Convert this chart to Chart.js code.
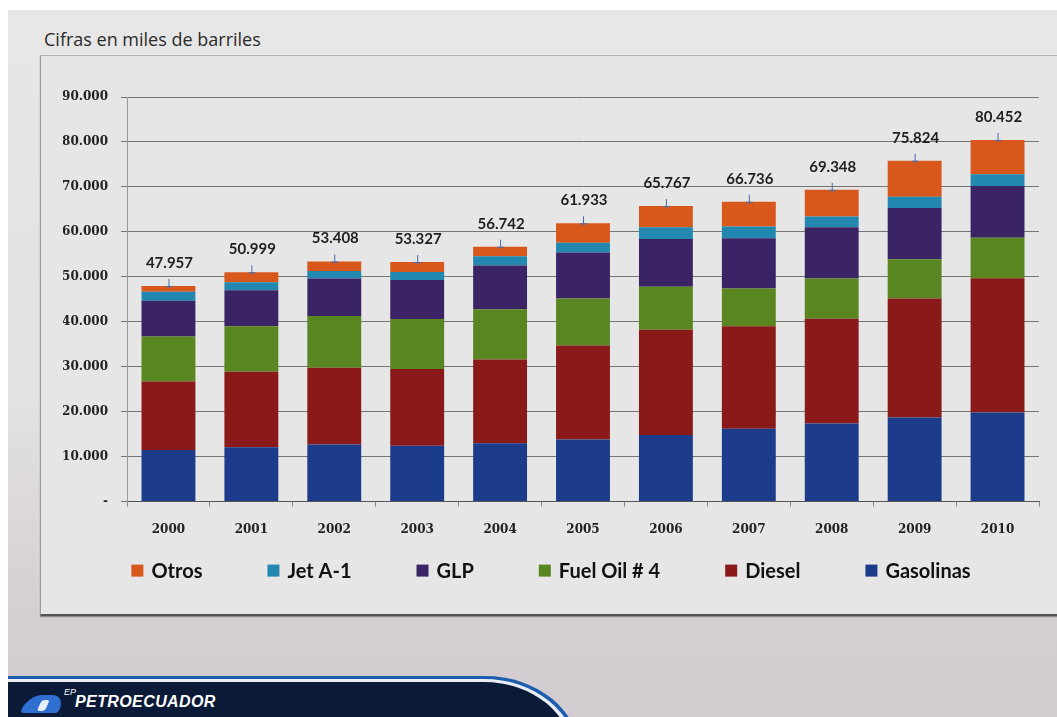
<!DOCTYPE html>
<html lang="es">
  <head>
    <meta charset="UTF-8" />
    <script src="https://cdn.jsdelivr.net/npm/chart.js@4.4.1/dist/chart.umd.min.js"></script>
    <title>Cifras en miles de barriles</title>
    <style>
      html,
      body {
        margin: 0;
        padding: 0;
        width: 1057px;
        height: 717px;
        overflow: hidden;
        background: #ffffff;
      }

      .slide {
        position: absolute;
        left: 8px;
        top: 10px;
        width: 1049px;
        height: 707px;
        background: linear-gradient(to bottom, #e7e7e7 0%, #e3e1e2 55%, #d4cdd2 88%, #d3ccd1 100%);
        overflow: hidden;
      }

      .titulo {
        position: absolute;
        left: 36px;
        top: 17px;
        font-family: "Open Sans", sans-serif;
        font-size: 18px;
        color: #2a2a2a;
        margin: 0;
      }

      .marco {
        position: absolute;
        left: 32px;
        top: 45px;
        width: 1040px;
        height: 558px;
        background: #e6e6e6;
        border-left: 1px solid #9c9c9c;
        border-top: 1px solid #b4b4b4;
        border-bottom: 2px solid #555555;
        box-shadow: 0 1px 1px #8a8a8a;
      }

      .grafico {
        position: absolute;
        left: 1px;
        top: 1px;
        width: 1016px;
        height: 556px;
      }

      .banda {
        position: absolute;
        left: 0;
        top: 666px;
        width: 572px;
        height: 90px;
        background: #1d5eae;
        border-top-right-radius: 95px 78px;
      }

      .banda-blanca {
        position: absolute;
        left: 0;
        top: 3px;
        right: 4px;
        bottom: 0;
        background: #e9eef5;
        border-top-right-radius: 92px 75px;
      }

      .banda-azul {
        position: absolute;
        left: 0;
        top: 3px;
        right: 4px;
        bottom: 0;
        background: #0b1a36;
        border-top-right-radius: 88px 72px;
      }

      .logo-icono {
        position: absolute;
        left: 16px;
        top: 13px;
        width: 38px;
        height: 18px;
        background: #2f6fd0;
        border-radius: 16px 16px 4px 4px;
        transform: skewX(-25deg);
      }

      .logo-icono::after {
        content: "";
        position: absolute;
        left: 16px;
        top: 5px;
        width: 8px;
        height: 11px;
        background: #e8eef8;
        border-radius: 3px;
      }

      .logo-ep {
        position: absolute;
        left: 56px;
        top: 5px;
        font-family: "Liberation Sans", sans-serif;
        font-style: italic;
        font-size: 9px;
        color: #ffffff;
      }

      .logo-texto {
        position: absolute;
        left: 67px;
        top: 11px;
        font-family: "Liberation Sans", sans-serif;
        font-weight: bold;
        font-style: italic;
        font-size: 16px;
        letter-spacing: 0.4px;
        color: #ffffff;
      }
    </style>
  </head>

  <body>
    <div class="slide">
      <p class="titulo">Cifras en miles de barriles</p>
      <div class="marco">
        <div class="grafico">
          <canvas id="myChart"></canvas>
        </div>
      </div>
      <div class="banda">
        <div class="banda-blanca">
          <div class="banda-azul">
            <div class="logo-icono"></div>
            <span class="logo-ep">EP</span>
            <span class="logo-texto">PETROECUADOR</span>
          </div>
        </div>
      </div>
    </div>

    <script>
      // miles de barriles
      const anios = ["2000", "2001", "2002", "2003", "2004", "2005", "2006", "2007", "2008", "2009", "2010"];
      const gasolinas = [11.5, 12.1, 12.7, 12.4, 13.0, 13.8, 14.8, 16.2, 17.4, 18.7, 19.8];
      const diesel = [15.2, 16.8, 17.1, 17.1, 18.6, 20.9, 23.4, 22.8, 23.3, 26.5, 29.9];
      const fuelOil = [10.0, 10.1, 11.5, 11.1, 11.2, 10.5, 9.6, 8.4, 8.9, 8.7, 9.0];
      const glp = [8.0, 8.0, 8.3, 8.7, 9.7, 10.2, 10.6, 11.2, 11.4, 11.4, 11.5];
      const jetA1 = [2.0, 1.8, 1.7, 1.8, 2.1, 2.2, 2.6, 2.6, 2.4, 2.5, 2.6];
      const otros = [1.26, 2.2, 2.1, 2.2, 2.1, 4.3, 4.77, 5.5, 5.95, 8.02, 7.65];
      const totales = [47957, 50999, 53408, 53327, 56742, 61933, 65767, 66736, 69348, 75824, 80452];

      const miles = (v) => v.map((x) => x * 1000);
      const puntos = (n) => (n === 0 ? "-" : n.toString().replace(/\B(?=(\d{3})+(?!\d))/g, "."));

      const serif = { family: "'DejaVu Serif', serif", size: 12, weight: "bold" };

      // totales encima de cada barra
      const totalesPlugin = {
        id: "totales",
        afterDatasetsDraw(chart) {
          const { ctx } = chart;
          const meta = chart.getDatasetMeta(chart.data.datasets.length - 1);
          ctx.save();
          ctx.font = "bold 15px Lato, sans-serif";
          ctx.fillStyle = "#1e1e1e";
          ctx.textAlign = "center";
          ctx.textBaseline = "middle";
          meta.data.forEach((bar, i) => {
            ctx.strokeStyle = "#4b6aa8";
            ctx.lineWidth = 1;
            ctx.beginPath();
            ctx.moveTo(bar.x + 0.5, bar.y - 7);
            ctx.lineTo(bar.x + 0.5, bar.y + 2);
            ctx.moveTo(bar.x - 3, bar.y + 0.5);
            ctx.lineTo(bar.x + 4, bar.y + 0.5);
            ctx.stroke();
            ctx.fillText(puntos(totales[i]), bar.x + 1, bar.y - 23);
          });
          ctx.restore();
        },
      };

      // leyenda en una sola fila, Otros primero
      const leyendaPlugin = {
        id: "leyenda",
        afterDraw(chart) {
          const { ctx } = chart;
          const sets = chart.data.datasets.slice().reverse();
          const gap = 65;
          const box = 12;
          ctx.save();
          ctx.font = "bold 20px Lato, sans-serif";
          const anchos = sets.map((d) => box + 8 + ctx.measureText(d.label).width);
          const total = anchos.reduce((a, b) => a + b, 0) + gap * (sets.length - 1);
          let x = chart.width / 2 + 1 - total / 2;
          const y = chart.chartArea.bottom + 69;
          ctx.textBaseline = "middle";
          sets.forEach((d, i) => {
            ctx.fillStyle = d.backgroundColor;
            ctx.fillRect(x, y - box / 2, box, box);
            ctx.fillStyle = "#111111";
            ctx.fillText(d.label, x + box + 8, y + 1);
            x += anchos[i] + gap;
          });
          ctx.restore();
        },
      };

      const ctx = document.getElementById("myChart");
      new Chart(ctx, {
        type: "bar",
        data: {
          labels: anios,
          datasets: [
            { label: "Gasolinas", data: miles(gasolinas), backgroundColor: "#1d3b8b" },
            { label: "Diesel", data: miles(diesel), backgroundColor: "#8a1a1a" },
            { label: "Fuel Oil # 4", data: miles(fuelOil), backgroundColor: "#5a8622" },
            { label: "GLP", data: miles(glp), backgroundColor: "#3b2466" },
            { label: "Jet A-1", data: miles(jetA1), backgroundColor: "#2388b0" },
            { label: "Otros", data: miles(otros), backgroundColor: "#d8571b" },
          ],
        },
        plugins: [totalesPlugin, leyendaPlugin],
        options: {
          responsive: true,
          maintainAspectRatio: false,
          animation: false,
          layout: {
            padding: { top: 40, left: 21, right: 19, bottom: 60 },
          },
          datasets: {
            bar: { categoryPercentage: 1, barPercentage: 0.65 },
          },
          scales: {
            x: {
              stacked: true,
              grid: {
                drawOnChartArea: false,
                tickLength: 5,
                color: "#8a8a8a",
              },
              border: { color: "#555555" },
              ticks: { font: serif, color: "#222222", padding: 16 },
            },
            y: {
              stacked: true,
              min: 0,
              max: 90000,
              afterFit(scale) {
                scale.width = 64;
              },
              grid: { color: "#757575", tickLength: 6 },
              border: { color: "#9a9a9a" },
              ticks: {
                stepSize: 10000,
                font: serif,
                color: "#222222",
                padding: 13,
                callback: (v) => puntos(v),
              },
            },
          },
          plugins: {
            legend: { display: false },
            tooltip: { enabled: false },
          },
        },
      });
    </script>
  </body>
</html>
